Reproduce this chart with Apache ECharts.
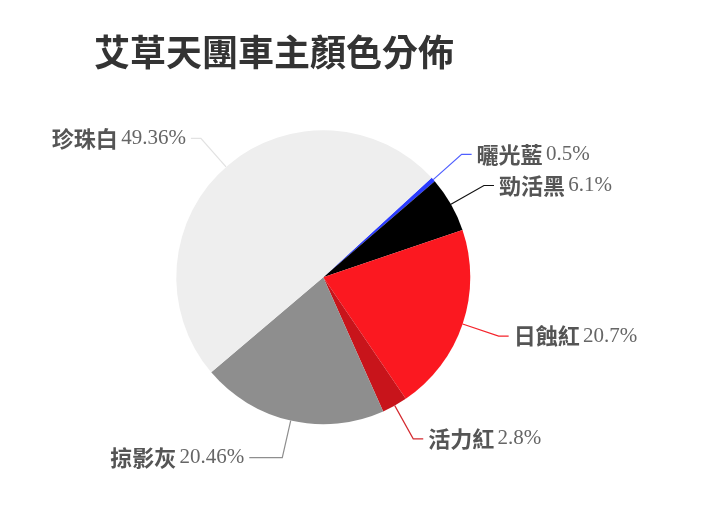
<html>
<head>
    <meta charset="utf-8">
    <title>艾草天團車主顏色分佈</title>
    <style>
        * {
            margin: 0;
            padding: 0;
        }
        #chart-container {
            position: relative;
            height: 100vh;
            overflow: hidden;
            background: #fff;
        }
    </style>
</head>
<body>
<div id="chart-container"></div>
<script src="https://cdn.jsdelivr.net/npm/echarts@6/dist/echarts.min.js"></script>
<script>
    // data, clockwise from the blue sliver
    var colorNames = ['曬光藍', '勁活黑', '日蝕紅', '活力紅', '掠影灰', '珍珠白'];
    var shares = [0.5, 6.1, 20.7, 2.8, 20.46, 49.36];
    var sliceColors = ['#2b3cff', '#000000', '#fb1820', '#c8141b', '#8e8e8e', '#eeeeee'];
    var lineColors = ['#4f5fff', '#111111', '#f5222a', '#d42a30', '#8e8e8e', '#e2e2e2'];

    var dom = document.getElementById('chart-container');
    var myChart = echarts.init(dom, null, { renderer: 'canvas' });

    var pieData = colorNames.map(function (name, i) {
        var line = { lineStyle: { color: lineColors[i] } };
        // the grey slice's label sits further out to the left
        if (i === 4) line.length2 = 33;
        return {
            name: name,
            value: shares[i],
            itemStyle: { color: sliceColors[i] },
            labelLine: line
        };
    });

    var option = {
        backgroundColor: '#ffffff',
        animation: false,
        title: {
            text: '艾草天團車主顏色分佈',
            left: 89,
            top: 29,
            textStyle: {
                fontFamily: 'Noto Sans CJK TC',
                fontSize: 36,
                fontWeight: 'bold',
                color: '#333333'
            }
        },
        series: [
            {
                type: 'pie',
                center: ['44.9%', '52.2%'],
                radius: 147,
                startAngle: 42.5,
                clockwise: true,
                data: pieData,
                label: {
                    show: true,
                    formatter: function (p) {
                        return '{n|' + p.name + '} {p|' + p.value + '%}';
                    },
                    rich: {
                        n: {
                            fontFamily: 'Noto Sans CJK TC',
                            fontSize: 22,
                            fontWeight: 'bold',
                            color: '#555555'
                        },
                        p: {
                            fontFamily: 'Liberation Serif',
                            fontSize: 21,
                            color: '#666666'
                        }
                    }
                },
                labelLine: {
                    length: 38,
                    length2: 10,
                    lineStyle: { width: 1.2 }
                }
            }
        ]
    };

    myChart.setOption(option);
    window.addEventListener('resize', myChart.resize);
</script>
</body>
</html>
